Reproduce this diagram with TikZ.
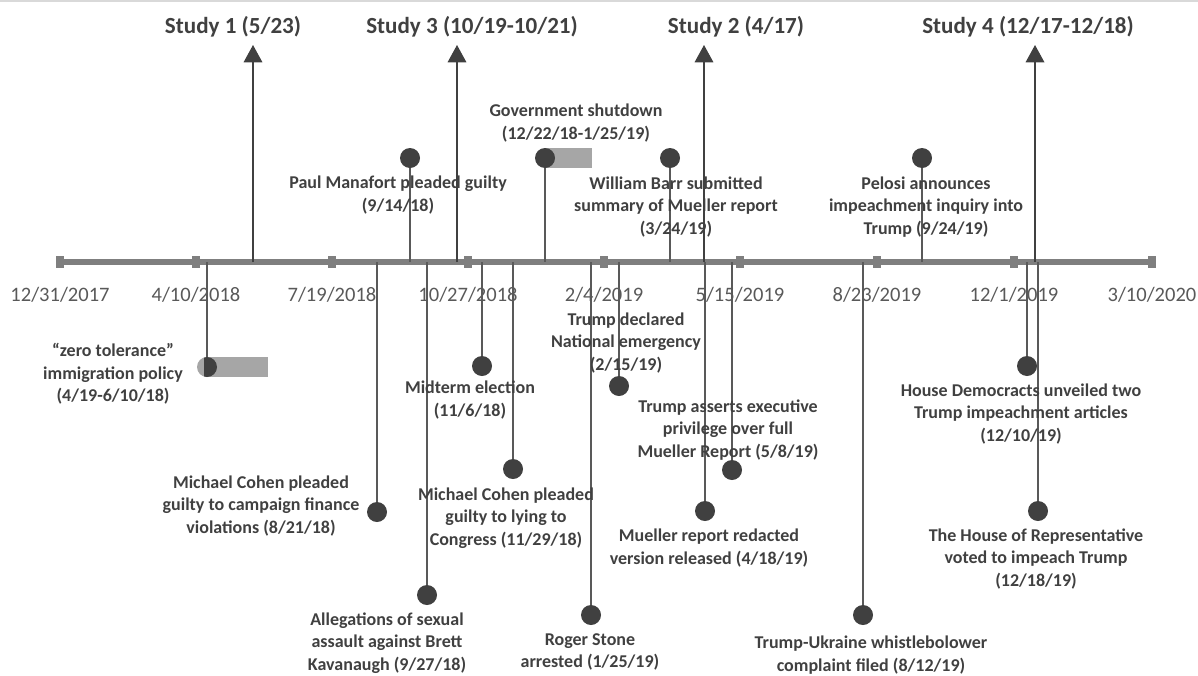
\documentclass[tikz,border=0pt]{standalone}
\usepackage{fontspec}
\setmainfont{Carlito}
\usetikzlibrary{arrows.meta,positioning,backgrounds}
\definecolor{axisgray}{HTML}{7F7F7F}
\definecolor{dotgray}{HTML}{404040}
\definecolor{stemgray}{HTML}{595959}
\definecolor{bargray}{HTML}{A6A6A6}
\definecolor{dategray}{HTML}{595959}
\definecolor{edgegray}{HTML}{D9D9D9}

\begin{document}
\begin{tikzpicture}[
            x=0.75pt, y=-0.75pt,
            dot/.style={circle,fill=dotgray,minimum size=15pt,inner sep=0pt},
            tck/.style={fill=axisgray,minimum width=6pt,minimum height=9pt,inner sep=0pt},
            evt/.style={align=center,text=dotgray,inner sep=0pt,
                font=\fontsize{13.5}{16.9}\selectfont\bfseries},
            dte/.style={text=dategray,inner sep=0pt,font=\fontsize{15.4}{18}\selectfont},
            ttl/.style={text=dotgray,inner sep=0pt,font=\fontsize{17.3}{20}\selectfont\bfseries},
            stem/.style={draw=stemgray,line width=0.9pt},
            study/.style={draw=dotgray,line width=0.9pt,-{Triangle[width=14pt,length=13pt]}},
            bar/.style={fill=bargray}
        ]
            \useasboundingbox (0,0) rectangle (1198,675);
            \draw[edgegray,line width=1.5pt] (0,1) -- (1198,1);

            \node[tck] (a0) at (60,262) {};
            \node[tck] (a1) at (196,262) {};
            \node[tck] (a2) at (332,262) {};
            \node[tck] (a3) at (468,262) {};
            \node[tck] (a4) at (604,262) {};
            \node[tck] (a5) at (740,262) {};
            \node[tck] (a6) at (877,262) {};
            \node[tck] (a7) at (1014,262) {};
            \node[tck] (a8) at (1152,262) {};

            \node[dte] (d0) at (60,295) {12/31/2017};
            \node[dte] (d1) at (196,295) {4/10/2018};
            \node[dte] (d2) at (332,295) {7/19/2018};
            \node[dte] (d3) at (468,295) {10/27/2018};
            \node[dte] (d4) at (604,295) {2/4/2019};
            \node[dte] (d5) at (740,295) {5/15/2019};
            \node[dte] (d6) at (877,295) {8/23/2019};
            \node[dte] (d7) at (1014,295) {12/1/2019};
            \node[dte] (d8) at (1152,295) {3/10/2020};

            \begin{scope}[on background layer]
                \draw[axisgray,line width=5pt] (a0.center) -- (a8.center);
                \fill[bar] (545,148) rectangle (592,168);
                \fill[bar] (207,357) rectangle (268,377);
            \end{scope}

            % study arrows
            \coordinate (s1) at (253,262);  \coordinate (s1t) at (253,45);
            \coordinate (s3) at (457,262);  \coordinate (s3t) at (457,45);
            \coordinate (s2) at (704,262);  \coordinate (s2t) at (704,45);
            \coordinate (s4) at (1035,262); \coordinate (s4t) at (1035,45);
            \draw[study] (s1) -- (s1t);
            \draw[study] (s3) -- (s3t);
            \draw[study] (s2) -- (s2t);
            \draw[study] (s4) -- (s4t);
            \node[ttl] (s1l) at (233,27) {Study 1 (5/23)};
            \node[ttl] (s3l) at (472,27) {Study 3 (10/19-10/21)};
            \node[ttl] (s2l) at (736,27) {Study 2 (4/17)};
            \node[ttl] (s4l) at (1028,27) {Study 4 (12/17-12/18)};

            % events above the axis
            \node[dot] (pm) at (410,158) {};
            \node[dot] (gs) at (545,158) {};
            \node[dot] (wb) at (670,158) {};
            \node[dot] (pl) at (922,158) {};

            % events below the axis
            \node[dot,fill=bargray] (zt)  at (207,367) {};
            \node[dot] (mcc) at (377,512) {};
            \node[dot] (bk)  at (427,595) {};
            \node[dot] (me)  at (482,366) {};
            \node[dot] (mcl) at (513,469) {};
            \node[dot] (rs)  at (591,615) {};
            \node[dot] (ne)  at (619,386) {};
            \node[dot] (mr)  at (705,511) {};
            \node[dot] (te)  at (732,470) {};
            \node[dot] (uw)  at (863,615) {};
            \node[dot] (hd)  at (1027,366) {};
            \node[dot] (hr)  at (1038,511) {};

            \begin{scope}
                \clip (204,350) rectangle (222,384);
                \fill[dotgray] (zt.center) circle (7.5pt);
            \end{scope}

            \begin{scope}[stem]
                \draw (pm.south) -- (pm |- a0);
                \draw (gs.south) -- (gs |- a0);
                \draw (wb.south) -- (wb |- a0);
                \draw (pl.south) -- (pl |- a0);
                \draw (zt |- a0) -- (zt.north);
                \draw (mcc |- a0) -- (mcc.north);
                \draw (bk |- a0) -- (bk.north);
                \draw (me |- a0) -- (me.north);
                \draw (mcl |- a0) -- (mcl.north);
                \draw (rs |- a0) -- (rs.north);
                \draw (ne |- a0) -- (ne.north);
                \draw (mr |- a0) -- (mr.north);
                \draw (te |- a0) -- (te.north);
                \draw (uw |- a0) -- (uw.north);
                \draw (hd |- a0) -- (hd.north);
                \draw (hr |- a0) -- (hr.north);
            \end{scope}

            \node[evt] (pmt)  at (398,195)  {Paul Manafort pleaded guilty\\(9/14/18)};
            \node[evt] (gst)  at (576,123)  {Government shutdown\\(12/22/18-1/25/19)};
            \node[evt] (wbt)  at (676,207)  {William Barr submitted\\summary of Mueller report\\(3/24/19)};
            \node[evt] (plt)  at (926,207)  {Pelosi announces\\impeachment inquiry into\\Trump (9/24/19)};
            \node[evt] (ztt)  at (113,374)  {“zero tolerance”\\immigration policy\\(4/19-6/10/18)};
            \node[evt] (mcct) at (261,506)  {Michael Cohen pleaded\\guilty to campaign finance\\violations (8/21/18)};
            \node[evt] (bkt)  at (387,643)  {Allegations of sexual\\assault against Brett\\Kavanaugh (9/27/18)};
            \node[evt] (met)  at (470,400)  {Midterm election\\(11/6/18)};
            \node[evt] (mclt) at (506,518)  {Michael Cohen pleaded\\guilty to lying to\\Congress (11/29/18)};
            \node[evt] (rst)  at (590,652)  {Roger Stone\\arrested (1/25/19)};
            \node[evt] (net)  at (626,343)  {Trump declared\\National emergency\\(2/15/19)};
            \node[evt] (tet)  at (728,430)  {Trump asserts executive\\privilege over full\\Mueller Report (5/8/19)};
            \node[evt] (mrt)  at (709,548)  {Mueller report redacted\\version released (4/18/19)};
            \node[evt] (uwt)  at (871,655)  {Trump-Ukraine whistlebolower\\complaint filed (8/12/19)};
            \node[evt] (hdt)  at (1021,414) {House Democracts unveiled two\\Trump impeachment articles\\(12/10/19)};
            \node[evt] (hrt)  at (1036,559) {The House of Representative\\voted to impeach Trump\\(12/18/19)};
        \end{tikzpicture}
\end{document}
